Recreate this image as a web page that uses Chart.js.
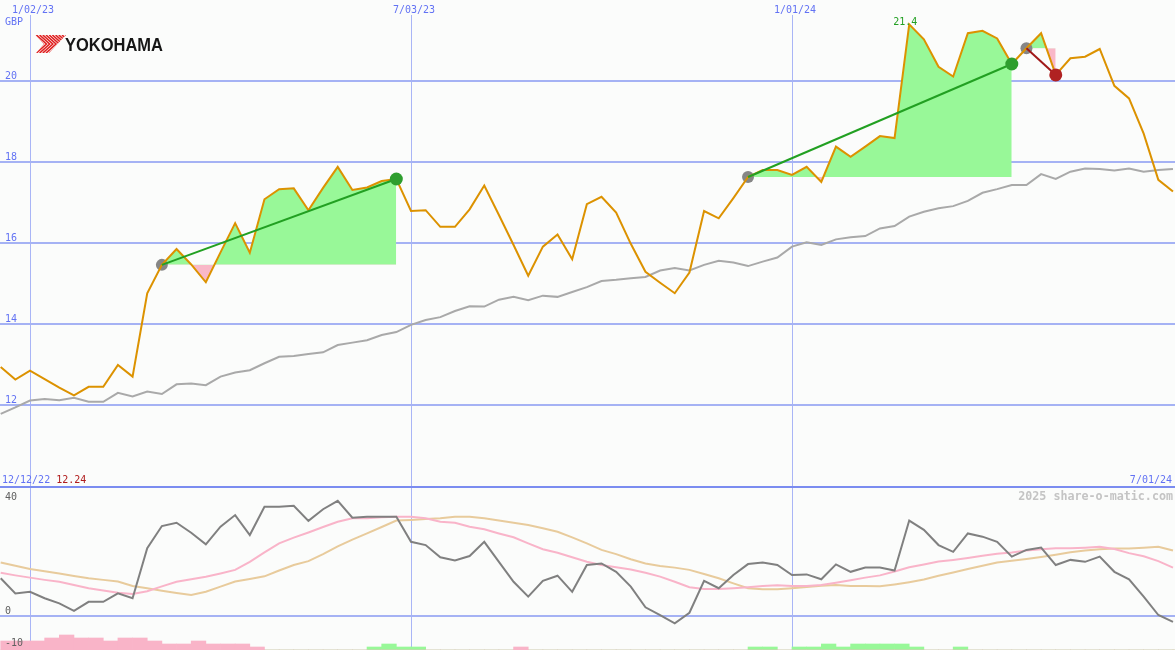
<!DOCTYPE html>
<html><head><meta charset="utf-8">
<script src="https://cdn.jsdelivr.net/npm/chart.js@4.4.1/dist/chart.umd.min.js"></script>
<style>html,body{margin:0;padding:0;background:#fbfcfb;overflow:hidden}canvas{display:block}</style>
</head><body>
<canvas id="c" width="1175" height="650"></canvas>
<script>
// Weekly data; week index 0 = Mon 1/02/23, first point is week -2.
const firstWeek = -2;
const price = [12.94,12.63,12.85,12.64,12.43,12.24,12.45,12.45,12.99,12.70,
  14.76,15.46,15.85,15.47,15.03,15.77,16.49,15.76,17.08,17.33,
  17.35,16.81,17.36,17.88,17.31,17.37,17.53,17.58,16.79,16.81,
  16.40,16.40,16.83,17.42,16.69,15.95,15.19,15.91,16.21,15.60,
  16.96,17.14,16.75,15.98,15.29,15.02,14.76,15.27,16.79,16.61,
  17.11,17.63,17.80,17.80,17.68,17.88,17.51,18.38,18.13,18.38,
  18.64,18.59,21.40,21.03,20.35,20.11,21.18,21.24,21.05,20.42,
  20.81,21.18,20.15,20.56,20.60,20.79,19.88,19.57,18.70,17.56,17.27];
const priceAvg = [11.78,11.94,12.11,12.15,12.12,12.18,12.08,12.08,12.30,12.21,
  12.33,12.27,12.51,12.53,12.49,12.70,12.80,12.86,13.03,13.19,
  13.21,13.26,13.30,13.48,13.54,13.60,13.73,13.80,13.98,14.10,
  14.17,14.32,14.44,14.43,14.60,14.67,14.59,14.70,14.67,14.79,
  14.91,15.06,15.09,15.13,15.16,15.32,15.38,15.32,15.46,15.56,
  15.52,15.43,15.54,15.64,15.91,16.02,15.95,16.09,16.14,16.17,
  16.36,16.42,16.65,16.77,16.86,16.91,17.04,17.24,17.33,17.43,
  17.43,17.70,17.58,17.76,17.84,17.83,17.79,17.84,17.76,17.80,17.83];
const momentum = [11.7,7.0,7.5,5.5,3.9,1.6,4.4,4.4,7.0,5.5,
  21.0,27.9,28.9,25.8,22.2,27.7,31.3,25.1,33.9,33.9,
  34.2,29.5,33.1,35.7,30.5,30.8,30.8,30.8,23.0,22.0,
  18.2,17.2,18.6,23.0,16.8,10.6,6.0,10.9,12.5,7.5,
  15.8,16.3,13.7,9.1,2.7,0.3,-2.3,1.0,10.9,8.6,
  12.7,16.1,16.6,15.8,12.7,12.9,11.4,16.0,13.7,15.0,
  15.0,14.1,29.6,26.7,22.0,19.9,25.6,24.6,23.0,18.4,
  20.5,21.2,15.8,17.4,16.8,18.4,13.7,11.4,6.0,0.3,-1.8];
const momentumFast = [13.4,12.6,11.9,11.2,10.6,9.6,8.6,7.9,7.2,6.8,
  7.7,9.2,10.6,11.4,12.2,13.2,14.3,16.8,19.7,22.5,
  24.3,25.9,27.6,29.2,30.3,30.3,30.6,30.8,30.8,30.3,
  29.2,28.9,27.7,26.9,25.6,24.4,22.5,20.7,19.6,18.2,
  16.8,15.8,15.1,14.4,13.4,12.2,10.6,8.9,8.4,8.4,
  8.6,8.9,9.3,9.5,9.3,9.3,9.6,10.3,11.1,11.9,
  12.6,13.8,15.1,16.0,16.9,17.4,18.0,18.7,19.3,19.7,
  20.3,20.7,21.0,21.0,21.2,21.5,20.8,19.5,18.5,17.0,15.0];
const momentumSlow = [16.6,15.6,14.6,13.9,13.2,12.4,11.7,11.2,10.7,9.3,
  8.6,7.8,7.1,6.5,7.5,9.1,10.7,11.5,12.3,14.1,
  15.8,17.0,19.2,21.6,23.7,25.6,27.6,29.6,29.8,30.1,
  30.3,30.8,30.8,30.3,29.6,28.9,28.2,27.2,26.1,24.4,
  22.5,20.5,19.2,17.6,16.3,15.5,15.0,14.3,13.0,11.7,
  10.1,8.6,8.3,8.3,8.6,9.0,9.4,9.6,9.3,9.3,
  9.2,9.8,10.5,11.3,12.5,13.5,14.6,15.6,16.6,17.1,
  17.7,18.3,19.0,19.8,20.3,20.7,20.9,20.9,21.2,21.5,20.3];
const histDown = [3,3,3,4,5,4,4,3,4,4,
  3,2,2,3,2,2,2,1,0,0,
  0,0,0,0,0,0,0,0,0,0,
  0,0,0,0,0,1,0,0,0,0,
  0,0,0,0,0,0,0,0,0,0,
  0,0,0,0,0,0,0,0,0,0,
  0,0,0,0,0,0,0,0,0,0,
  0,0,0,0,0,0,0,0,0,0,0];
const histUp = [0,0,0,0,0,0,0,0,0,0,
  0,0,0,0,0,0,0,0,0,0,
  0,0,0,0,0,1,2,1,1,0,
  0,0,0,0,0,0,0,0,0,0,
  0,0,0,0,0,0,0,0,0,0,
  0,1,1,0,1,1,2,1,2,2,
  2,2,1,0,0,1,0,0,0,0,
  0,0,0,0,0,0,0,0,0,0,0];
const tradeEntry = [9, 49, 68];
const tradeExit = [25, 67, 70];
const dateTickWeeks = [0, 26, 52];
const dateTickLabels = ['1/02/23', '7/03/23', '1/01/24'];
const priceTicks = [12, 14, 16, 18, 20];
const momentumTicks = [40, 0, -10];
const startDateLabel = '12/12/22';
const endDateLabel = '7/01/24';
const lowLabel = '12.24';
const highLabel = '21.4';
const currencyLabel = 'GBP';
const brandLabel = 'YOKOHAMA';
const watermark = '2025 share-o-matic.com';

const weeks = price.map((_, i) => firstWeek + i);
const idx = w => w - firstWeek;
const pts = arr => arr.map((v, i) => ({x: weeks[i], y: v}));

const BLUE = '#6272f4';
const MONO = '"DejaVu Sans Mono", monospace';

const datasets = [];
datasets.push({data: pts(price), yAxisID: 'yP', borderColor: '#dc9200', borderWidth: 2, pointRadius: 0, order: 2});
datasets.push({data: pts(priceAvg), yAxisID: 'yP', borderColor: '#a9a9a9', borderWidth: 2, pointRadius: 0, order: 9});

tradeEntry.forEach((e, t) => {
  const x1 = tradeExit[t];
  const base = price[idx(e)];
  const span = weeks.filter(w => w >= e && w <= x1);
  const win = price[idx(x1)] >= base;
  datasets.push({data: span.map(w => ({x: w, y: price[idx(w)]})), yAxisID: 'yP', borderWidth: 0,
    borderColor: 'rgba(0,0,0,0)', pointRadius: 0, fill: {target: '+1', above: '#98f898', below: '#f9b8c8'}, order: 7});
  datasets.push({data: span.map(w => ({x: w, y: base})), yAxisID: 'yP', borderWidth: 0,
    borderColor: 'rgba(0,0,0,0)', pointRadius: 0, fill: false, order: 8});
  datasets.push({data: [{x: e, y: base}, {x: x1, y: price[idx(x1)]}], yAxisID: 'yP',
    borderColor: win ? '#22a022' : '#a01818', borderWidth: 2, pointRadius: 0, order: 1});
});
datasets.push({data: tradeEntry.map(e => ({x: e, y: price[idx(e)]})), yAxisID: 'yP', showLine: false,
  pointRadius: 6, pointBackgroundColor: '#868686', pointBorderWidth: 0, order: 3});
datasets.push({data: tradeExit.map(e => ({x: e, y: price[idx(e)]})), yAxisID: 'yP', showLine: false,
  pointRadius: 6.5, pointBorderWidth: 0,
  pointBackgroundColor: tradeExit.map((e, t) => price[idx(e)] >= price[idx(tradeEntry[t])] ? '#2e9e2e' : '#b02222'), order: 0});

datasets.push({data: pts(momentumSlow), yAxisID: 'yM', borderColor: '#e8cb9c', borderWidth: 2, pointRadius: 0, order: 5});
datasets.push({data: pts(momentumFast), yAxisID: 'yM', borderColor: '#f9b4c9', borderWidth: 2, pointRadius: 0, order: 4});
datasets.push({data: pts(momentum), yAxisID: 'yM', borderColor: '#808080', borderWidth: 2, pointRadius: 0, order: 3});

datasets.push({type: 'bar', data: histDown.map((v, i) => ({x: weeks[i] + 0.5, y: v})), yAxisID: 'yH',
  backgroundColor: '#f9b4c8', barPercentage: 1, categoryPercentage: 1, grouped: false, borderWidth: 0, order: 20});
datasets.push({type: 'bar', data: histUp.map((v, i) => ({x: weeks[i] + 0.5, y: v})), yAxisID: 'yH',
  backgroundColor: '#98f898', barPercentage: 1, categoryPercentage: 1, grouped: false, borderWidth: 0, order: 20});

const decor = {
  id: 'decor',
  beforeDraw(chart) {
    const ctx = chart.ctx;
    ctx.save(); ctx.fillStyle = '#fbfcfb'; ctx.fillRect(0, 0, chart.width, chart.height); ctx.restore();
  },
  beforeDatasetsDraw(chart) {
    const {ctx, scales: {x, yP, yM}} = chart;
    const W = chart.width, H = chart.height;
    ctx.save();
    ctx.fillStyle = '#a9b5f6';
    dateTickWeeks.forEach(w => ctx.fillRect(Math.round(x.getPixelForValue(w)), 15, 1, H - 15));
    ctx.fillStyle = '#a5b2f4';
    priceTicks.forEach(v => ctx.fillRect(0, Math.round(yP.getPixelForValue(v)) - 1, W, 2));
    momentumTicks.forEach(v => {
      if (v === 0) ctx.fillRect(0, Math.round(yM.getPixelForValue(v)) - 1, W, 2);
    });
    ctx.fillStyle = '#7b8cf0';
    ctx.fillRect(0, Math.round(yM.getPixelForValue(momentumTicks[0])) - 1, W, 2);
    // logo
    ctx.save();
    ctx.beginPath();
    ctx.moveTo(35, 35); ctx.lineTo(66, 35); ctx.lineTo(49, 53); ctx.lineTo(36, 53); ctx.lineTo(44, 44); ctx.closePath();
    ctx.clip();
    ctx.strokeStyle = '#e02020'; ctx.lineWidth = 1.6;
    for (let i = -6; i < 12; i++) {
      ctx.beginPath();
      ctx.moveTo(30 + i * 3.2, 35); ctx.lineTo(40 + i * 3.2, 44); ctx.lineTo(30 + i * 3.2, 53);
      ctx.stroke();
    }
    ctx.restore();
    ctx.fillStyle = '#161616';
    ctx.font = 'bold 18px "Liberation Sans", Arial, sans-serif';
    ctx.textBaseline = 'alphabetic'; ctx.textAlign = 'left';
    ctx.fillText(brandLabel, 65, 51, 98);
    ctx.restore();
  },
  afterDatasetsDraw(chart) {
    const {ctx, scales: {x, yP, yM}} = chart;
    const W = chart.width;
    ctx.save();
    ctx.font = '10px ' + MONO;
    ctx.textBaseline = 'alphabetic';
    ctx.fillStyle = BLUE;
    ctx.textAlign = 'center';
    dateTickWeeks.forEach((w, i) => ctx.fillText(dateTickLabels[i], x.getPixelForValue(w) + 3, 13));
    ctx.textAlign = 'left';
    ctx.fillText(currencyLabel, 5, 25);
    priceTicks.forEach(v => ctx.fillText(String(v), 5, yP.getPixelForValue(v) - 2));
    ctx.fillStyle = '#606060';
    const top = yM.getPixelForValue(momentumTicks[0]);
    momentumTicks.forEach(v => {
      const y = Math.min(chart.height - 2, Math.max(top + 13, yM.getPixelForValue(v) - 2));
      ctx.fillText(String(v), 5, y);
    });
    // bottom-left start date and low
    ctx.fillStyle = BLUE;
    ctx.fillText(startDateLabel, 2, top - 4);
    const sw = ctx.measureText(startDateLabel + ' ').width;
    ctx.fillStyle = '#b01c1c';
    ctx.fillText(lowLabel, 2 + sw, top - 4);
    ctx.fillStyle = BLUE;
    ctx.textAlign = 'right';
    ctx.fillText(endDateLabel, W - 3, top - 4);
    // high label
    let hi = 0; price.forEach((v, i) => { if (v > price[hi]) hi = i; });
    ctx.fillStyle = '#22a022';
    ctx.textAlign = 'center';
    ctx.fillText(highLabel, x.getPixelForValue(weeks[hi]) - 4, yP.getPixelForValue(price[hi]) + 1);
    // watermark
    ctx.font = 'bold 11.7px ' + MONO;
    ctx.fillStyle = '#c4c4c4';
    ctx.textAlign = 'right';
    ctx.fillText(watermark, W - 2, top + 13);
    ctx.restore();
  }
};

new Chart(document.getElementById('c'), {
  type: 'line',
  data: {datasets},
  options: {
    responsive: false,
    animation: false,
    events: [],
    devicePixelRatio: 1,
    layout: {autoPadding: false, padding: 0},
    elements: {line: {tension: 0}},
    plugins: {legend: {display: false}, tooltip: {enabled: false}},
    scales: {
      x: {type: 'linear', display: false, offset: false, bounds: 'ticks', min: -2.0472, max: 78.137},
      yP: {type: 'linear', display: false, min: 5.9506, max: 22},
      yM: {type: 'linear', display: false, min: -10.543, max: 191.01},
      yH: {type: 'linear', display: false, min: 0, max: 216.67}
    }
  },
  plugins: [decor]
});
</script>
</body></html>
